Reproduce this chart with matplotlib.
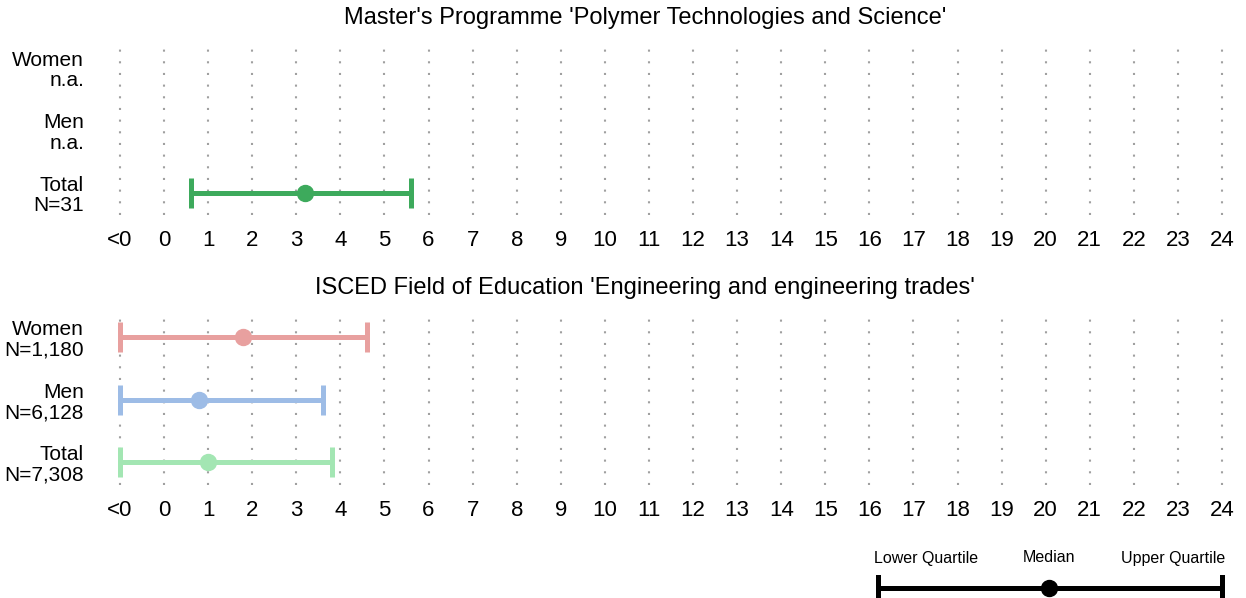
import matplotlib
matplotlib.use("Agg")
import matplotlib.pyplot as plt
from matplotlib.lines import Line2D

plt.rcParams['font.family'] = ['Liberation Sans', 'DejaVu Sans']

# ---- data ----
xtick_labels = ["<0"] + [str(i) for i in range(0, 25)]
xtick_pos = list(range(-1, 25))  # "<0" shown at position -1

panel_titles = ["Master's Programme 'Polymer Technologies and Science'",
                "ISCED Field of Education 'Engineering and engineering trades'"]

rows = ["Women", "Men", "Total"]
top_labels = ["Women\nn.a.", "Men\nn.a.", "Total\nN=31"]
bot_labels = ["Women\nN=1,180", "Men\nN=6,128", "Total\nN=7,308"]

# lower quartile, median, upper quartile (None = n.a.); -1 means "<0"
top_low = [None, None, 0.6]
top_med = [None, None, 3.2]
top_up = [None, None, 5.6]

bot_low = [-1, -1, -1]
bot_med = [1.8, 0.8, 1.0]
bot_up = [4.6, 3.6, 3.8]

top_colors = ["#3DAA5C", "#3DAA5C", "#3DAA5C"]
bot_colors = ["#E8A09F", "#9DBCE6", "#A3E6B3"]

W, H = 1246, 598
fig = plt.figure(figsize=(W / 100, H / 100), dpi=100)

x0_px, x1_px = 120, 1222  # pixel location of -1 and 24
ppu = (x1_px - x0_px) / 25.0
xmin, xmax = -1.25, 24.25
ax_left = x0_px - 0.25 * ppu
ax_right = x1_px + 0.25 * ppu


def make_ax(top_px, bot_px):
    return fig.add_axes([ax_left / W, 1 - bot_px / H,
                         (ax_right - ax_left) / W, (bot_px - top_px) / H])


def draw_panel(ax, labels, low, med, up, colors, title, title_y):
    ax.set_xlim(xmin, xmax)
    ax.set_ylim(-0.36, 2.4)
    for s in ax.spines.values():
        s.set_visible(False)
    for xp in xtick_pos:
        ax.axvline(xp, color="#a0a0a0", lw=1.5, ls=(0, (1, 4.6)), zorder=0)
    ypos = [2, 1, 0]
    ax.set_yticks(ypos)
    ax.set_yticklabels(labels, fontsize=15, linespacing=1.1)
    ax.set_xticks(xtick_pos)
    ax.set_xticklabels(xtick_labels, fontsize=16)
    ax.tick_params(axis="both", length=0)
    ax.tick_params(axis="y", pad=18)
    ax.tick_params(axis="x", pad=11)
    for y, lo, m, u, c in zip(ypos, low, med, up, colors):
        if m is None:
            continue
        ax.errorbar([m], [y], xerr=[[m - lo], [u - m]], fmt="o", color=c,
                    ecolor=c, elinewidth=3.6, capsize=10.8, capthick=3.6,
                    markersize=11.5, zorder=3)
    fig.text(645 / W, 1 - title_y / H, title, ha="center", va="center",
             fontsize=17)


ax1 = make_ax(43, 215)
draw_panel(ax1, top_labels, top_low, top_med, top_up, top_colors,
           panel_titles[0], 18)
ax2 = make_ax(312, 485)
draw_panel(ax2, bot_labels, bot_low, bot_med, bot_up, bot_colors,
           panel_titles[1], 288)

# ---- legend ----
lg_y = 1 - 588 / H
lx0, lmid, lx1 = 878 / W, 1049 / W, 1222 / W
fig.add_artist(Line2D([lx0, lx1], [lg_y, lg_y], color="black", lw=3.6))
for xx in (lx0, lx1):
    fig.add_artist(Line2D([xx, xx], [lg_y - 11 / H, lg_y + 11 / H],
                          color="black", lw=3.6))
fig.add_artist(Line2D([lmid], [lg_y], marker="o", color="black",
                      markersize=11.5))
for xx, t in ((926, "Lower Quartile"), (1049, "Median"), (1173, "Upper Quartile")):
    fig.text(xx / W, 1 - 558 / H, t, ha="center", va="center", fontsize=11.5)

fig.savefig("out.png", dpi=100)
